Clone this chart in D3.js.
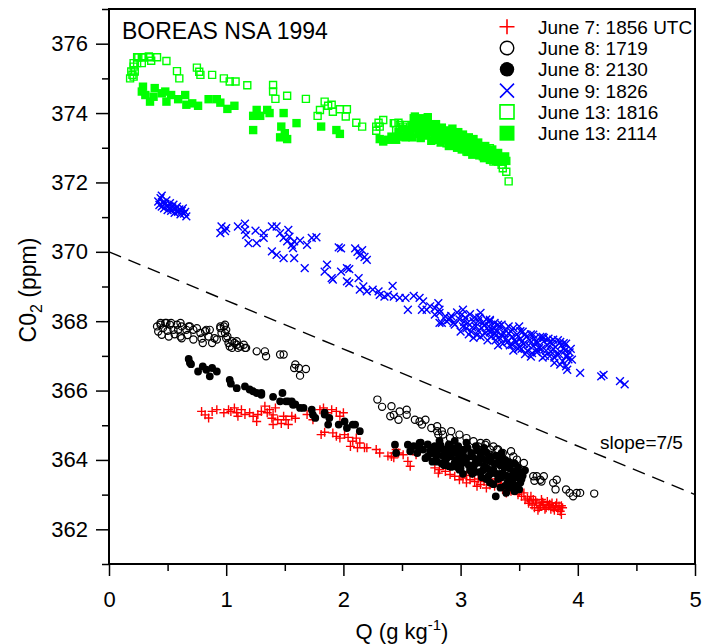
<!DOCTYPE html>
<html>
<head>
<meta charset="utf-8">
<script src="https://cdn.jsdelivr.net/npm/d3@7"></script>
<style>
body { margin: 0; background: #fff; }
svg { display: block; font-family: "Liberation Sans", Arial, sans-serif; }
</style>
</head>
<body>
<svg id="chart" width="703" height="644"></svg>
<script>
// ---------- DATA ----------
const titleText = "BOREAS NSA 1994";
const xMajorTicks = [0, 1, 2, 3, 4, 5];
const xMinorTicks = [0.5, 1.5, 2.5, 3.5, 4.5];
const yMajorTicks = [362, 364, 366, 368, 370, 372, 374, 376];
const yMinorTicks = [361, 363, 365, 367, 369, 371, 373, 375, 377];
const slopeLine = [[0, 370], [5, 363]];
const slopeLabel = "slope=7/5";
const seriesNames = ["June 7: 1856 UTC", "June 8: 1719", "June 8: 2130", "June 9: 1826", "June 13: 1816", "June 13: 2114"];

// June 7: 1856 UTC (red plus)
const june7_1856 = [
 [0.79,365.40],[0.82,365.30],[0.85,365.21],[0.88,365.40],[0.92,365.45],[0.98,365.36],[1.02,365.45],[1.04,365.40],[1.07,365.50],[1.09,365.36],
 [1.10,365.26],[1.13,365.45],[1.16,365.31],[1.20,365.36],[1.23,365.26],[1.27,365.31],[1.26,365.11],[1.30,365.40],[1.33,365.55],[1.35,365.36],
 [1.37,365.45],[1.39,365.20],[1.40,365.30],[1.42,365.50],[1.40,365.02],[1.44,365.16],[1.47,365.05],[1.49,365.26],[1.51,365.16],[1.53,365.02],
 [1.56,365.26],[1.59,365.20],[1.69,365.31],[1.74,365.16],[1.80,365.45],[1.83,365.50],[1.86,365.36],[1.90,365.45],[1.94,365.40],[1.97,365.26],
 [2.00,365.36],[1.81,364.73],[1.84,364.80],[1.91,364.78],[1.94,364.68],[1.97,364.63],[2.01,364.73],[2.04,364.65],[2.08,364.54],[2.11,364.63],
 [2.14,364.49],[2.06,364.39],[2.12,364.35],[2.18,364.35],[2.20,364.35],[2.28,364.30],[2.31,364.20],[2.38,364.11],[2.43,364.20],[2.45,364.30],
 [2.41,364.10],[2.43,364.06],[2.47,364.20],[2.51,364.15],[2.55,363.96],[2.57,363.82],[2.62,364.15],[2.78,363.77],[2.82,363.72],[2.81,363.62],
 [2.87,363.67],[2.91,363.58],[2.95,363.53],[2.99,363.43],[3.02,363.48],[3.05,363.34],[3.08,363.43],[3.12,363.38],[3.14,363.24],[3.17,363.29],
 [3.20,363.38],[3.22,363.19],[3.25,363.28],[3.29,363.24],[3.34,363.30],[3.36,363.15],[3.39,363.05],[3.43,363.10],[3.44,363.24],[3.47,363.15],
 [3.49,363.00],[3.52,362.95],[3.54,363.05],[3.57,362.90],[3.60,362.95],[3.62,362.86],[3.63,362.62],[3.65,362.76],[3.69,362.86],[3.71,362.71],
 [3.74,362.80],[3.75,362.67],[3.78,362.76],[3.79,362.62],[3.82,362.76],[3.84,362.67],[3.85,362.52],[3.86,362.43],[3.87,362.62],[3.80,362.55],
 [3.05,363.55],[3.15,363.45],[3.25,363.40],[3.35,363.30],[3.10,363.60],[3.30,363.45],[3.66,362.55],[3.72,362.58],[3.58,362.75],[3.68,362.68],
 [3.61,362.70],[3.64,362.82],[3.67,362.62],[3.70,362.78],[3.73,362.62],[3.76,362.72],[3.77,362.58],[3.81,362.68],[3.83,362.58],[3.86,362.68],
 [3.59,362.82],[3.55,362.85],[3.50,363.08]
];

// June 8: 1719 (open black circles)
const june8_1719 = [
 [0.41,367.85],[0.42,367.70],[0.44,367.95],[0.44,367.90],[0.45,367.61],[0.46,367.80],[0.48,367.95],[0.49,367.95],[0.50,367.72],[0.51,367.56],
 [0.52,367.90],[0.53,367.95],[0.55,367.75],[0.56,367.62],[0.58,367.90],[0.59,367.75],[0.61,367.95],[0.61,367.56],[0.62,367.85],[0.62,367.51],
 [0.66,367.75],[0.67,367.60],[0.68,367.85],[0.69,367.85],[0.72,367.75],[0.72,367.47],[0.75,367.80],[0.78,367.66],[0.79,367.50],[0.80,367.37],
 [0.82,367.71],[0.83,367.75],[0.85,367.56],[0.86,367.75],[0.88,367.37],[0.90,367.51],[0.92,367.47],[0.95,367.85],[0.95,367.80],[0.96,367.66],
 [0.98,367.85],[0.99,367.90],[0.99,367.66],[1.00,367.51],[1.00,367.75],[1.01,367.56],[1.02,367.37],[1.03,367.27],[1.05,367.42],[1.05,367.23],
 [1.07,367.37],[1.09,367.32],[1.09,367.42],[1.10,367.23],[1.12,367.27],[1.15,367.32],[1.16,367.23],[1.17,367.23],[1.26,367.13],[1.33,367.13],
 [1.34,366.99],[1.46,367.04],[1.49,367.04],[1.58,366.65],[1.59,366.75],[1.62,366.65],[1.68,366.62],[1.63,366.43],
 [2.29,365.74],[2.33,365.53],[2.41,365.55],[2.40,365.26],[2.43,365.30],[2.47,365.16],[2.48,365.40],[2.54,365.45],[2.54,365.30],[2.61,365.16],
 [2.65,365.11],[2.70,365.16],[2.67,365.02],[2.75,364.92],[2.80,364.83],[2.81,364.73],[2.85,364.73],[2.92,364.83],[2.91,364.63],[2.99,364.73],
 [3.05,364.63],[3.11,364.54],[3.15,364.39],[3.21,364.44],[3.25,364.30],[3.31,364.30],[3.36,364.20],[3.43,364.25],[3.45,364.10],[3.54,363.91],
 [3.62,363.53],[3.65,363.53],[3.68,363.43],[3.71,363.53],[3.63,363.40],[3.79,363.34],[3.82,363.43],[3.81,363.15],[3.90,363.15],[3.93,363.05],
 [3.96,362.95],[3.99,363.05],[4.02,363.05],[4.14,363.03],[2.80,364.97],[2.84,364.83],[3.17,364.49],[3.22,364.49],[3.28,364.39],[3.32,364.30],
 [3.48,364.01],[3.69,363.38],[3.0,364.20],[3.1,364.00],[3.2,363.90],[3.3,363.70],[3.4,363.60],[2.9,364.40],[3.15,364.30],[3.35,364.05],
 [3.45,363.80],[3.25,364.15],[3.50,363.70],[3.40,363.95]
];

// June 8: 2130 (filled black circles)
const june8_2130 = [
 [0.68,366.91],[0.69,366.80],[0.70,366.76],[0.76,366.55],[0.80,366.70],[0.83,366.60],[0.86,366.41],[0.88,366.65],[0.92,366.55],[1.03,366.31],
 [1.04,366.20],[1.09,366.07],[1.16,366.12],[1.20,366.03],[1.23,365.98],[1.26,365.93],[1.30,365.93],[1.30,365.88],[1.40,365.82],[1.48,365.93],
 [1.46,365.69],[1.51,365.69],[1.53,365.69],[1.56,365.69],[1.57,365.59],[1.59,365.60],[1.63,365.50],[1.66,365.50],[1.73,365.45],[1.74,365.30],
 [1.76,365.21],[1.84,365.31],[1.84,365.36],[1.88,365.21],[1.87,365.02],[1.96,365.02],[2.01,365.11],[2.03,364.92],[2.08,365.02],[2.10,365.02],
 [2.14,364.83],[2.44,364.44],[2.45,364.20],[2.55,364.44],[2.57,364.25],[2.64,364.39],[2.65,364.49],
 [2.60,364.40],[2.63,364.20],[2.66,364.50],[2.68,364.30],[2.70,364.05],[2.72,364.45],[2.74,364.25],[2.76,363.95],[2.78,364.40],[2.80,364.15],
 [2.82,364.55],[2.84,363.90],[2.86,364.30],[2.88,364.05],[2.90,364.45],[2.92,363.80],[2.94,364.20],[2.96,364.00],[2.98,364.40],[3.00,363.75],
 [3.02,364.15],[3.04,363.95],[3.06,364.35],[3.08,363.70],[3.10,364.10],[3.12,363.88],[3.14,364.28],[3.16,363.65],[3.18,364.05],[3.20,363.82],
 [3.22,364.22],[3.24,363.55],[3.26,363.95],[3.28,363.72],[3.30,364.12],[3.32,363.45],[3.34,363.85],[3.36,363.62],[3.38,364.00],[3.40,363.35],
 [3.42,363.75],[3.44,363.55],[3.46,363.90],[3.48,363.25],[3.50,363.65],[3.52,363.45],[3.55,363.70],[3.30,362.95],[3.39,363.05],[2.99,363.72],
 [2.90,363.82],[3.13,364.40],[3.20,364.35],[3.05,364.50],[2.95,364.55],[3.35,364.20],[3.00,364.30],[3.10,363.60],[3.25,363.35],[3.45,363.30],
 [2.72,364.10],[2.75,364.35],[2.77,364.18],[2.79,364.00],[2.81,364.30],[2.83,364.42],[2.85,364.12],[2.87,363.98],[2.89,364.25],[2.91,364.10],
 [2.93,364.35],[2.95,363.92],[2.97,364.22],[2.99,364.05],[3.01,363.90],[3.03,364.30],[3.05,364.05],[3.07,363.85],[3.09,364.20],[3.11,363.78],
 [3.13,364.02],[3.15,363.92],[3.17,364.18],[3.19,363.70],[3.21,364.00],[3.23,363.75],[3.25,364.10],[3.27,363.62],[3.29,363.90],[3.31,363.60],
 [3.33,364.02],[3.35,363.50],[3.37,363.80],[3.39,363.55],[3.41,363.92],[3.43,363.40],[3.45,363.68],[3.47,363.50],[3.49,363.80],[3.51,363.35],
 [3.53,363.55],[3.22,363.45],[3.28,363.30],[3.34,363.20],[3.18,363.50],[3.12,363.65],[3.02,363.60],[2.97,363.80],[2.86,363.85],[2.80,363.95],
 [3.42,363.20],[3.50,363.15],[3.46,363.10],[3.38,363.25]
];

// June 9: 1826 (blue x)
const june9_1826 = [
 [0.42,371.45],[0.43,371.35],[0.44,371.55],[0.45,371.30],[0.46,371.42],[0.47,371.25],[0.48,371.38],[0.49,371.48],[0.50,371.20],[0.51,371.32],
 [0.52,371.40],[0.53,371.18],[0.54,371.28],[0.55,371.36],[0.56,371.12],[0.57,371.24],[0.58,371.30],[0.59,371.15],[0.60,371.22],[0.61,371.08],
 [0.62,371.18],[0.63,371.25],[0.64,371.10],[0.65,371.15],[0.66,371.02],[0.45,371.62],
 [0.95,370.54],[0.96,370.73],[1.00,370.68],[0.99,370.60],[1.10,370.73],[1.16,370.81],[1.16,370.63],[1.17,370.49],[1.19,370.25],[1.26,370.25],
 [1.25,370.61],[1.32,370.54],[1.32,370.40],[1.39,370.73],[1.43,370.73],[1.46,370.54],[1.49,370.40],[1.52,370.30],[1.53,370.63],[1.54,370.44],
 [1.56,370.20],[1.57,370.11],[1.58,370.30],[1.63,370.32],[1.69,370.20],[1.73,370.40],[1.77,370.42],[1.39,370.01],[1.43,369.91],[1.49,369.82],
 [1.58,369.82],[1.67,369.53],[1.96,370.13],[1.98,370.10],[2.10,370.10],[2.12,370.00],[2.14,369.90],[2.16,370.05],[2.18,369.85],[2.20,369.77],
 [1.86,369.63],[1.84,369.43],[1.90,369.24],[1.91,369.20],[1.98,369.43],[2.03,369.53],[2.05,369.50],[2.03,369.15],[2.05,369.10],[2.13,369.24],
 [2.14,368.91],[2.17,369.00],[2.20,368.86],[2.25,368.91],[2.30,368.86],[2.31,368.76],[2.35,368.71],[2.38,368.76],[2.42,369.02],[2.43,368.71],
 [2.48,368.67],[2.53,368.67],[2.55,368.33],[2.60,368.73],[2.65,368.67],[2.68,368.57],[2.67,368.33],[2.74,368.43],[2.78,368.38],[2.81,368.52],
 [2.82,368.24],[2.82,367.95],[2.87,368.14],[2.90,368.04],[2.71,368.33],[2.82,368.33],[2.78,368.19],[2.84,367.95],[2.91,368.09],[2.94,367.95],
 [3.02,368.33],[3.01,368.19],[3.05,367.80],[3.11,367.52],[3.17,368.24],[3.15,368.00],[3.25,368.04],[3.24,367.75],[3.32,367.90],[3.29,367.66],
 [3.41,367.85],[3.44,367.32],[3.51,367.71],[3.52,367.20],[3.62,367.61],[3.65,367.18],[3.71,367.52],[3.76,366.99],[3.79,367.47],[3.88,367.37],
 [3.90,366.99],[3.90,366.70],[3.95,366.89],[3.91,366.60],[4.02,366.51],[4.20,366.41],[4.22,366.45],[4.36,366.27],[4.40,366.18],
 [2.88,368.00],[2.92,368.15],[2.95,367.90],[2.97,368.25],[2.99,368.05],[3.02,367.85],[3.04,368.10],[3.06,367.95],[3.08,368.20],[3.09,367.70],
 [3.11,368.00],[3.13,367.85],[3.14,367.60],[3.16,368.10],[3.18,367.80],[3.19,367.95],[3.21,367.65],[3.22,368.05],[3.24,367.85],[3.26,367.55],
 [3.27,367.75],[3.29,367.95],[3.30,367.45],[3.31,367.70],[3.33,367.85],[3.35,367.60],[3.36,367.35],[3.38,367.75],[3.39,367.50],[3.41,367.65],
 [3.42,367.30],[3.44,367.55],[3.45,367.80],[3.47,367.40],[3.48,367.62],[3.50,367.25],[3.51,367.50],[3.53,367.70],[3.54,367.35],[3.56,367.55],
 [3.57,367.15],[3.59,367.45],[3.60,367.62],[3.62,367.28],[3.63,367.50],[3.65,367.10],[3.66,367.38],[3.68,367.55],[3.69,367.20],[3.71,367.42],
 [3.72,367.00],[3.74,367.30],[3.75,367.50],[3.77,367.12],[3.78,367.35],[3.80,366.95],[3.81,367.25],[3.83,367.45],[3.84,367.05],[3.86,367.30],
 [3.87,366.85],[3.89,367.15],[3.90,367.35],[3.92,366.90],[3.93,367.10],
 [3.00,367.70],[3.03,367.98],[3.07,367.62],[3.10,367.82],[3.12,368.12],[3.15,367.72],[3.17,367.55],[3.20,367.88],[3.23,367.45],[3.25,367.68],
 [3.28,367.82],[3.30,367.58],[3.32,367.30],[3.34,367.50],[3.37,367.65],[3.40,367.40],[3.43,367.70],[3.46,367.45],[3.49,367.20],[3.52,367.40],
 [3.55,367.62],[3.58,367.30],[3.61,367.08],[3.64,367.40],[3.67,367.22],[3.70,367.55],[3.73,367.15],[3.76,367.40],[3.79,367.20],[3.82,367.05],
 [3.85,367.40],[3.88,367.22],[3.91,367.00],[3.94,367.20],[3.45,367.15],[3.55,367.05],[3.60,366.98],[3.70,366.95],[3.80,366.80],[3.85,366.75],
 [3.35,367.90],[3.25,368.00],[3.50,367.85]
];

// June 13: 1816 (open green squares)
const june13_1816 = [
 [0.18,375.00],[0.19,375.20],[0.20,375.10],[0.21,375.05],[0.21,375.34],[0.22,375.20],[0.21,375.44],[0.24,375.44],[0.24,375.61],[0.25,375.61],
 [0.28,375.44],[0.28,375.61],[0.29,375.61],[0.34,375.63],[0.35,375.61],[0.36,375.51],[0.41,375.61],[0.49,375.50],[0.58,375.21],[0.60,375.00],
 [0.75,375.31],[0.77,375.19],[0.78,375.10],[0.88,375.10],[0.98,375.00],[1.03,374.91],[1.08,374.91],[1.18,374.80],[1.40,374.81],[1.40,374.62],
 [1.42,374.41],[1.52,374.50],[1.68,374.41],[1.78,373.92],[1.80,374.09],[1.84,374.33],[1.87,374.21],[1.90,374.24],[1.91,374.04],[1.97,374.11],
 [2.03,374.11],[2.02,373.90],[2.11,373.72],[2.16,373.61],[2.28,373.61],[2.30,373.72],[2.34,373.80],[2.28,373.49],[2.31,373.61],[2.43,373.71],
 [2.44,373.71],[2.45,373.51],[2.47,373.72],[2.48,373.66],[2.54,373.66],[2.51,373.61],[2.57,373.51],[2.68,373.42],[2.80,373.23],[2.88,373.13],
 [3.02,373.32],[3.05,372.89],[3.11,372.84],[3.11,373.04],[3.19,372.75],[3.25,372.99],[3.28,372.75],[3.28,372.60],[3.32,372.60],[3.35,372.51],
 [3.36,372.41],[3.39,372.31],[3.41,372.03],[2.60,373.60],[2.75,373.45]
];

// June 13: 2114 (filled green squares)
const june13_2114 = [
 [0.29,374.76],[0.28,374.62],[0.31,374.52],[0.35,374.33],[0.39,374.72],[0.38,374.47],[0.45,374.57],[0.48,374.62],[0.49,374.33],[0.53,374.52],
 [0.59,374.40],[0.65,374.52],[0.66,374.24],[0.71,374.28],[0.76,374.21],[0.85,374.40],[0.92,374.40],[0.95,374.30],[1.01,374.12],[1.07,374.21],
 [1.23,373.92],[1.26,374.09],[1.29,373.92],[1.35,374.09],[1.37,374.00],[1.49,374.00],[1.23,373.51],[1.47,373.61],[1.60,373.71],[1.50,373.42],
 [1.46,373.30],[1.52,373.25],[1.81,373.61],[1.94,373.51],[1.97,373.40],[2.31,373.25],[2.34,373.18],
 [2.38,373.23],[2.41,373.32],[2.45,373.23],[2.51,373.32],[2.54,373.51],[2.58,373.62],[2.60,373.85],[2.62,373.72],[2.63,373.55],[2.64,373.40],
 [2.66,373.28],[2.67,373.65],[2.69,373.50],[2.70,373.78],[2.71,373.35],[2.73,373.60],[2.74,373.45],[2.75,373.20],[2.77,373.55],[2.78,373.38],
 [2.79,373.68],[2.80,373.28],[2.82,373.48],[2.83,373.15],[2.84,373.58],[2.86,373.36],[2.87,373.22],[2.88,373.50],[2.90,373.05],[2.91,373.40],
 [2.92,373.28],[2.93,373.55],[2.95,373.15],[2.96,373.35],[2.97,373.00],[2.98,373.45],[3.00,373.22],[3.01,372.95],[3.02,373.38],[3.04,373.10],
 [3.05,373.28],[3.06,372.88],[3.08,373.18],[3.09,373.00],[3.10,372.80],[3.11,373.25],[3.13,372.95],[3.14,373.10],[3.16,372.78],[3.17,373.02],
 [3.19,372.88],[3.20,372.70],[3.22,372.95],[3.23,372.80],[3.25,372.65],[3.26,372.88],[3.28,372.72],[3.30,372.62],[3.31,372.80],[3.33,372.68],
 [3.35,372.60],[3.37,372.70],[3.39,372.62],[2.61,373.90],[2.66,373.85],[2.72,373.88],
 [2.47,373.45],[2.50,373.55],[2.53,373.30],[2.56,373.45],[2.59,373.30],[2.61,373.62],[2.65,373.70],[2.68,373.42],[2.72,373.72],[2.76,373.62],
 [2.78,373.25],[2.81,373.55],[2.85,373.45],[2.89,373.30],[2.92,373.12],[2.94,373.42],[2.97,373.25],[2.99,373.35],[3.03,373.20],[3.05,373.02],
 [3.07,373.30],[3.10,373.10],[3.12,372.90],[3.15,373.15],[3.18,372.95],[3.21,373.05],[3.24,372.85],[3.27,372.95],[3.29,372.75],[3.32,372.85],
 [3.34,372.72],[3.36,372.62],[3.38,372.75],[3.15,372.85],[3.00,373.05],[2.85,373.28],[2.70,373.58]
];

// ---------- CHART ----------
const svg = d3.select("#chart");
const mLeft = 109, mRight = 695, mTop = 9, mBottom = 564;
const x = d3.scaleLinear().domain([0, 5]).range([mLeft, mRight]);
const y = d3.scaleLinear().domain([361, 377]).range([mBottom, mTop]);

// axes ticks
const fmt = d3.format("d");
const yAx = svg.append("g").attr("transform", `translate(${mLeft},0)`)
  .call(d3.axisLeft(y).tickValues(yMajorTicks).tickSize(13).tickPadding(8).tickFormat(fmt));
const yAxMin = svg.append("g").attr("transform", `translate(${mLeft},0)`)
  .call(d3.axisLeft(y).tickValues(yMinorTicks).tickSize(7).tickFormat(""));
const xAx = svg.append("g").attr("transform", `translate(0,${mBottom})`)
  .call(d3.axisBottom(x).tickValues(xMajorTicks).tickSize(12).tickPadding(15).tickFormat(fmt));
const xAxMin = svg.append("g").attr("transform", `translate(0,${mBottom})`)
  .call(d3.axisBottom(x).tickValues(xMinorTicks).tickSize(7).tickFormat(""));
[yAx, yAxMin, xAx, xAxMin].forEach(g => {
  g.select(".domain").remove();
  g.selectAll(".tick line").attr("stroke", "#000").attr("stroke-width", 1.5);
  g.selectAll("text").attr("font-size", 22).attr("fill", "#000")
    .attr("font-family", '"Liberation Sans", Arial, sans-serif');
});

// frame
svg.append("rect").attr("x", mLeft).attr("y", mTop).attr("width", mRight - mLeft).attr("height", mBottom - mTop)
  .attr("fill", "none").attr("stroke", "#000").attr("stroke-width", 2);

// dashed slope line
svg.append("path")
  .attr("d", d3.line().x(d => x(d[0])).y(d => y(d[1]))(slopeLine))
  .attr("stroke", "#000").attr("stroke-width", 1.4).attr("stroke-dasharray", "13,8").attr("fill", "none");
svg.append("text").attr("x", 600).attr("y", 449).attr("font-size", 19).text(slopeLabel);

// marker shapes
function plusPath(r) { return `M${-r},0H${r}M0,${-r}V${r}`; }
function xPath(r) { return `M${-r},${-r}L${r},${r}M${-r},${r}L${r},${-r}`; }
function circlePath(r) { return `M${r},0A${r},${r} 0 1,1 ${-r},0A${r},${r} 0 1,1 ${r},0Z`; }
function squarePath(r) { return `M${-r},${-r}H${r}V${r}H${-r}Z`; }

const styles = [
  { data: june7_1856, d: plusPath(4.5), fill: "none", stroke: "#ff0000", sw: 1.4, ld: plusPath(7.5), lsw: 1.6 },
  { data: june8_1719, d: circlePath(3.6), fill: "none", stroke: "#000", sw: 1.2, ld: circlePath(6.8), lsw: 1.4 },
  { data: june8_2130, d: circlePath(3.9), fill: "#000", stroke: "none", sw: 0, ld: circlePath(7.2), lsw: 0 },
  { data: june9_1826, d: xPath(3.9), fill: "none", stroke: "#0000ff", sw: 1.4, ld: xPath(7), lsw: 1.6 },
  { data: june13_1816, d: squarePath(3.5), fill: "none", stroke: "#00ff00", sw: 1.4, ld: squarePath(7), lsw: 1.6 },
  { data: june13_2114, d: squarePath(4.2), fill: "#00ff00", stroke: "none", sw: 0, ld: squarePath(7.5), lsw: 0 }
];

const plot = svg.append("g");
styles.forEach(s => {
  plot.append("g").selectAll("path").data(s.data).join("path")
    .attr("d", s.d)
    .attr("transform", d => `translate(${x(d[0])},${y(d[1])})`)
    .attr("fill", s.fill).attr("stroke", s.stroke).attr("stroke-width", s.sw);
});

// title
svg.append("text").attr("x", 122).attr("y", 39).attr("font-size", 23).text(titleText);

// legend
const legend = svg.append("g");
styles.forEach((s, i) => {
  const ly = 26.7 + i * 21.3;
  legend.append("path").attr("d", s.ld).attr("transform", `translate(507,${ly})`)
    .attr("fill", s.fill).attr("stroke", s.stroke).attr("stroke-width", s.lsw);
  legend.append("text").attr("x", 538).attr("y", ly + 7).attr("font-size", 19).text(seriesNames[i]);
});

// axis titles
const xt = svg.append("text").attr("x", 402).attr("y", 639).attr("font-size", 22).attr("text-anchor", "middle");
xt.append("tspan").text("Q (g kg");
xt.append("tspan").attr("dy", -9).attr("font-size", 15).text("-1");
xt.append("tspan").attr("dy", 9).text(")");

const yt = svg.append("text").attr("transform", "translate(36,290) rotate(-90)").attr("font-size", 23).attr("text-anchor", "middle");
yt.append("tspan").text("C0");
yt.append("tspan").attr("dy", 6).attr("font-size", 16).text("2");
yt.append("tspan").attr("dy", -6).text(" (ppm)");
</script>
</body>
</html>
